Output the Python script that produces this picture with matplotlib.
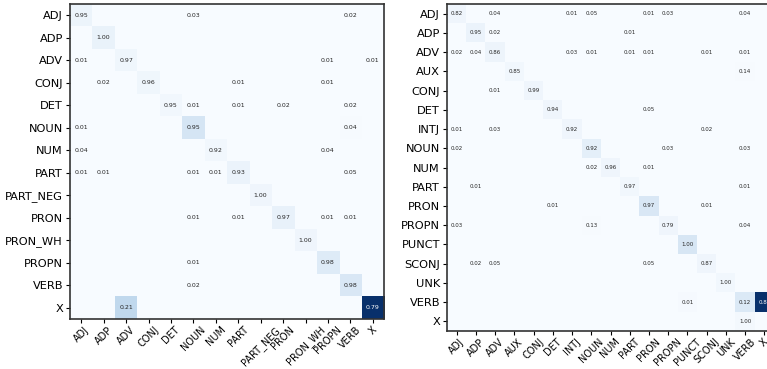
import matplotlib.pyplot as plt
import numpy as np

# left model: tag set with PART_NEG / PRON_WH
left_labels = ["ADJ", "ADP", "ADV", "CONJ", "DET", "NOUN", "NUM", "PART",
               "PART_NEG", "PRON", "PRON_WH", "PROPN", "VERB", "X"]
left_norm = np.array([
    [.95, 0, 0, 0, 0, .03, 0, 0, 0, 0, 0, 0, .02, 0],
    [0, 1.0, 0, 0, 0, 0, 0, 0, 0, 0, 0, 0, 0, 0],
    [.01, 0, .97, 0, 0, 0, 0, 0, 0, 0, 0, .01, 0, .01],
    [0, .02, 0, .96, 0, 0, 0, .01, 0, 0, 0, .01, 0, 0],
    [0, 0, 0, 0, .95, .01, 0, .01, 0, .02, 0, 0, .02, 0],
    [.01, 0, 0, 0, 0, .95, 0, 0, 0, 0, 0, 0, .04, 0],
    [.04, 0, 0, 0, 0, 0, .92, 0, 0, 0, 0, .04, 0, 0],
    [.01, .01, 0, 0, 0, .01, .01, .93, 0, 0, 0, 0, .05, 0],
    [0, 0, 0, 0, 0, 0, 0, 0, 1.0, 0, 0, 0, 0, 0],
    [0, 0, 0, 0, 0, .01, 0, .01, 0, .97, 0, .01, .01, 0],
    [0, 0, 0, 0, 0, 0, 0, 0, 0, 0, 1.0, 0, 0, 0],
    [0, 0, 0, 0, 0, .01, 0, 0, 0, 0, 0, .98, 0, 0],
    [0, 0, 0, 0, 0, .02, 0, 0, 0, 0, 0, 0, .98, 0],
    [0, 0, .21, 0, 0, 0, 0, 0, 0, 0, 0, 0, 0, .79],
])
# rough row counts (cell colour follows counts, text follows row-normalised value)
left_support = np.array([55, 70, 40, 40, 30, 180, 30, 65, 40, 80, 40, 125, 155, 1265])

# right model: UD tag set
right_labels = ["ADJ", "ADP", "ADV", "AUX", "CONJ", "DET", "INTJ", "NOUN", "NUM",
                "PART", "PRON", "PROPN", "PUNCT", "SCONJ", "UNK", "VERB", "X"]
right_norm = np.array([
    [.82, 0, .04, 0, 0, 0, .01, .05, 0, 0, .01, .03, 0, 0, 0, .04, 0],
    [0, .95, .02, 0, 0, 0, 0, 0, 0, .01, 0, 0, 0, 0, 0, 0, 0],
    [.02, .04, .86, 0, 0, 0, .03, .01, 0, .01, .01, 0, 0, .01, 0, .01, 0],
    [0, 0, 0, .85, 0, 0, 0, 0, 0, 0, 0, 0, 0, 0, 0, .14, 0],
    [0, 0, .01, 0, .99, 0, 0, 0, 0, 0, 0, 0, 0, 0, 0, 0, 0],
    [0, 0, 0, 0, 0, .94, 0, 0, 0, 0, .05, 0, 0, 0, 0, 0, 0],
    [.01, 0, .03, 0, 0, 0, .92, 0, 0, 0, 0, 0, 0, .02, 0, 0, 0],
    [.02, 0, 0, 0, 0, 0, 0, .92, 0, 0, 0, .03, 0, 0, 0, .03, 0],
    [0, 0, 0, 0, 0, 0, 0, .02, .96, 0, .01, 0, 0, 0, 0, 0, 0],
    [0, .01, 0, 0, 0, 0, 0, 0, 0, .97, 0, 0, 0, 0, 0, .01, 0],
    [0, 0, 0, 0, 0, .01, 0, 0, 0, 0, .97, 0, 0, .01, 0, 0, 0],
    [.03, 0, 0, 0, 0, 0, 0, .13, 0, 0, 0, .79, 0, 0, 0, .04, 0],
    [0, 0, 0, 0, 0, 0, 0, 0, 0, 0, 0, 0, 1.0, 0, 0, 0, 0],
    [0, .02, .05, 0, 0, 0, 0, 0, 0, 0, .05, 0, 0, .87, 0, 0, 0],
    [0, 0, 0, 0, 0, 0, 0, 0, 0, 0, 0, 0, 0, 0, 1.0, 0, 0],
    [0, 0, 0, 0, 0, 0, 0, 0, 0, 0, 0, 0, .01, 0, 0, .12, .87],
    [0, 0, 0, 0, 0, 0, 0, 0, 0, 0, 0, 0, 0, 0, 0, 1.0, 0],
])
right_support = np.array([50, 63, 58, 35, 40, 42, 43, 100, 42, 31, 155, 50, 160, 45, 30, 1150, 20])


def draw_matrix(ax, norm, support, labels, text_size):
    counts = norm * support[:, None]
    ax.imshow(counts, cmap="Blues", vmin=0, vmax=counts.max(), aspect="auto",
              interpolation="nearest")
    thresh = counts.max() / 2
    for i in range(norm.shape[0]):
        for j in range(norm.shape[1]):
            if norm[i, j] > 0:
                ax.text(j, i, f"{norm[i, j]:.2f}", ha="center", va="center",
                        fontsize=text_size,
                        color="white" if counts[i, j] > thresh else "#262626")
    ticks = np.arange(len(labels))
    ax.set_xticks(ticks)
    ax.set_xticklabels(labels, rotation=45, fontsize=7.0)
    ax.set_yticks(ticks)
    ax.set_yticklabels(labels, fontsize=8.2)
    ax.tick_params(length=3, pad=2)
    ax.tick_params(axis="x", pad=1)
    for s in ax.spines.values():
        s.set_linewidth(1.2)
        s.set_color("#333333")


fig = plt.figure(figsize=(7.67, 3.69), dpi=100)
W, H = 767, 369

ax1 = fig.add_axes([70 / W, (H - 319) / H, 314 / W, 315 / H])
draw_matrix(ax1, left_norm, left_support, left_labels, 4.5)

ax2 = fig.add_axes([447 / W, (H - 331) / H, 327 / W, 327 / H])
draw_matrix(ax2, right_norm, right_support, right_labels, 4.0)

plt.savefig("out.png", dpi=100)
